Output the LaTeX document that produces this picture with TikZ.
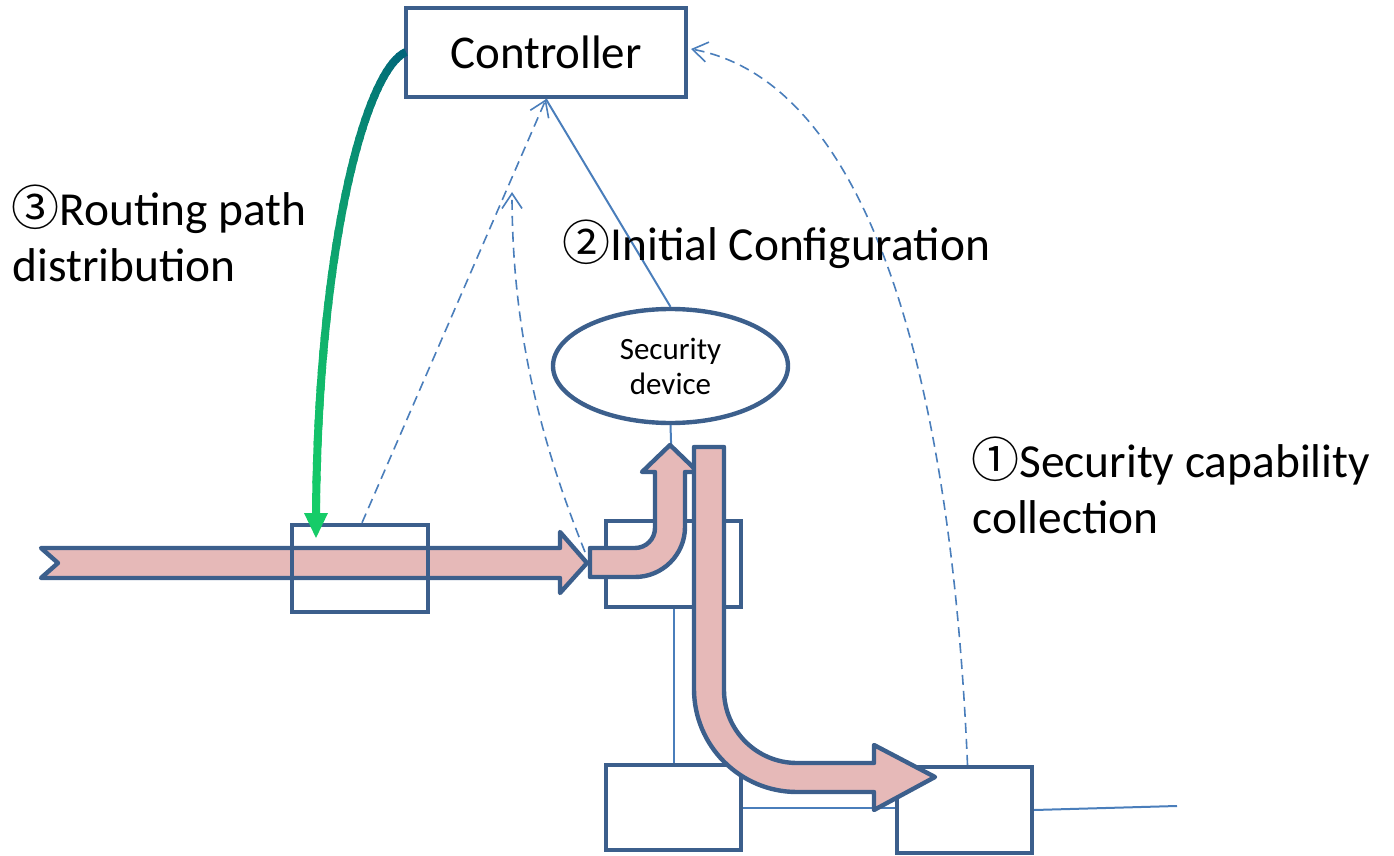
\documentclass[tikz,border=0pt]{standalone}
\usepackage{fontspec}
\setmainfont{Carlito}
\newfontfamily\circfont{Noto Sans CJK JP}
\usetikzlibrary{arrows.meta,shapes.geometric,calc}
\definecolor{bord}{RGB}{60,95,140}
\definecolor{thinc}{RGB}{74,126,187}
\definecolor{pinkf}{RGB}{230,185,184}
\definecolor{gtop}{RGB}{0,100,122}
\definecolor{gbot}{RGB}{22,204,104}
\newcommand{\circd}[1]{{\circfont\fontsize{24}{28}\selectfont #1}}
\begin{document}
\begin{tikzpicture}[x=0.5pt,y=-0.5pt,
  declare function={gbx(\t)=(1-\t)^3*406+3*(1-\t)^2*\t*365+3*(1-\t)*\t^2*318+\t^3*316;
                    gby(\t)=(1-\t)^3*52+3*(1-\t)^2*\t*70+3*(1-\t)*\t^2*250+\t^3*515;},
  box/.style={draw=bord,line width=2.2pt,minimum width=67.5pt,minimum height=43pt,inner sep=0pt},
  thinline/.style={draw=thinc,line width=1pt},
  dashline/.style={draw=thinc,line width=0.8pt,dash pattern=on 5pt off 3pt},
  barb/.style={-{Straight Barb[length=7.5pt,width=10pt]}},
  pinkarrow/.style={fill=pinkf,draw=bord,line width=2.2pt,line join=round},
  lbl/.style={font=\fontsize{23.7}{28}\selectfont,anchor=base west,inner sep=0pt}
]
\useasboundingbox (0,0) rectangle (1394,856);

% nodes
\node[box,minimum width=140pt,minimum height=44.5pt,font=\fontsize{23.5}{28}\selectfont] (ctrl) at (546,52.5) {Controller};
\node[ellipse,draw=bord,line width=2.2pt,minimum width=117.5pt,minimum height=57pt,inner sep=0pt,align=center,font=\fontsize{15.5}{17.5}\selectfont] (sec) at (670.5,366) {Security\\device};
\node[box] (B) at (673.5,564) {};
\node[box,minimum height=42.5pt] (C) at (673.5,807.5) {};
\node[box] (D) at (964.5,810) {};

% thin connectors
\draw[thinline] (ctrl.south) -- (sec.north);
\draw[thinline] (sec.south) -- (B.north);
\draw[thinline] (B.south) -- (C.north);
\draw[thinline] (C.east) -- (C.east -| D.west);
\coordinate (lineend) at (1177,806);
\draw[thinline] (D.east) -- (lineend);

% pink flow arrows
\draw[pinkarrow] (41,548) -- (560,548) -- (560,532) -- (587,563) -- (560,593) -- (560,578) -- (41,578) -- (58,563) -- cycle;
\draw[pinkarrow] (590,548) -- (635,548) arc[start angle=90,end angle=0,radius=20] -- (655,472) -- (642,472) -- (670,445) -- (698,472) -- (685,472) -- (685,527) arc[start angle=0,end angle=90,radius=50] -- (590,577) -- cycle;
\draw[pinkarrow] (694,447) -- (724,447) -- (724,690) arc[start angle=180,end angle=90,radius=73] -- (874,763) -- (874,745) -- (935,777) -- (874,810) -- (874,792) -- (797,792) arc[start angle=90,end angle=180,radius=103] -- cycle;

\node[box,minimum width=68pt,minimum height=43.5pt] (A) at (360,568.5) {};

% dashed collection arrows
\draw[dashline,barb] ($(A.north)+(2,0)$) -- (ctrl.south);
\coordinate (d2s) at (585,552);
\coordinate (d2e) at (512,192);
\draw[dashline,barb] (d2s) .. controls (540,440) and (512,330) .. (d2e);
\coordinate (d3e) at (691,49);
\draw[dashline,barb] ($(D.north)+(3,0)$) .. controls (950,350) and (860,80) .. (d3e);

% green gradient arrow
\foreach \i in {0,...,39}{
  \pgfmathsetmacro\ta{\i/40}
  \pgfmathsetmacro\tb{min(1,(\i+1.4)/40)}
  \pgfmathtruncatemacro\pc{100*\i/39}
  \draw[line width=4pt,color=gbot!\pc!gtop,line cap=butt,variable=\t,domain=\ta:\tb,samples=4,smooth] plot ({gbx(\t)},{gby(\t)});
}
\coordinate (gtip) at (316,538);
\fill[gbot] (304,513) -- (328,513) -- (gtip) -- cycle;

% labels
\node[lbl] (l3a) at (11,226) {\circd{③}Routing path};
\node[lbl] (l3b) at (12,282) {distribution};
\node[lbl] (l2) at (562,261) {\circd{②}Initial Configuration};
\node[lbl] (l1a) at (971,477) {\circd{①}Security capability};
\node[lbl] (l1b) at (972,533) {collection};
\end{tikzpicture}
\end{document}
